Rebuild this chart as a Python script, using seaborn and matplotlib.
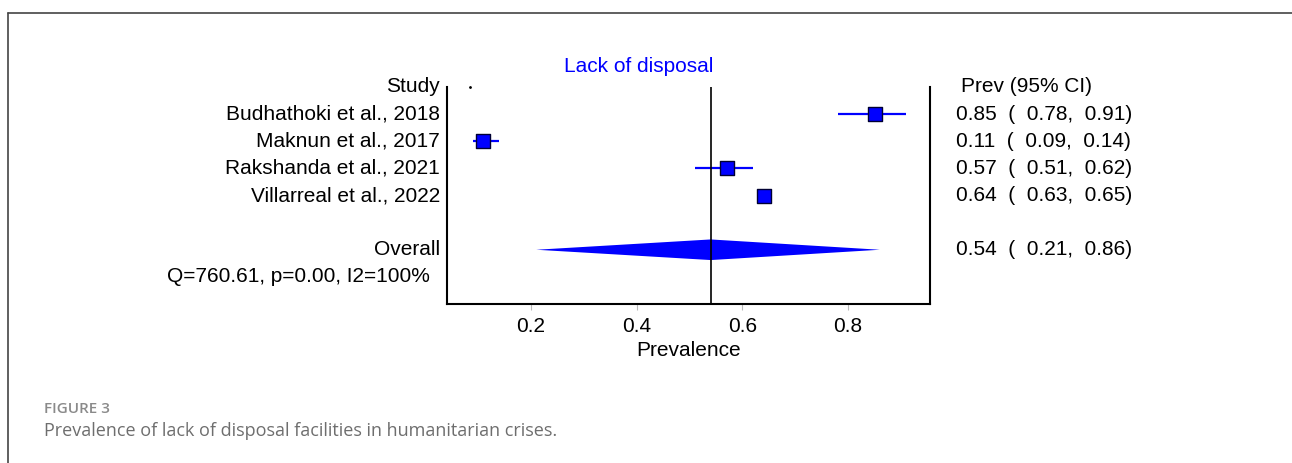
import pandas as pd
import matplotlib.pyplot as plt
import matplotlib.transforms as mtrans
from matplotlib.lines import Line2D
import seaborn as sns

# data
studies = ['Budhathoki et al., 2018', 'Maknun et al., 2017',
           'Rakshanda et al., 2021', 'Villarreal et al., 2022']
prev = [0.85, 0.11, 0.57, 0.64]
ci_low = [0.78, 0.09, 0.51, 0.63]
ci_high = [0.91, 0.14, 0.62, 0.65]
overall = [0.54, 0.21, 0.86]   # estimate, low, high
het_text = 'Q=760.61, p=0.00, I2=100%'
xticks = [0.2, 0.4, 0.6, 0.8]

df = pd.DataFrame({'study': studies, 'prev': prev, 'lo': ci_low, 'hi': ci_high})
df['row'] = range(1, len(df) + 1)
overall_row = len(df) + 2
het_row = overall_row + 1

W, H = 1292, 463
sns.set_theme(style="white")
plt.rcParams['font.family'] = ['Liberation Sans', 'DejaVu Sans']
plt.rcParams['text.color'] = 'black'
plt.rcParams['xtick.labelcolor'] = 'black'
plt.rcParams['axes.labelcolor'] = 'black'

fig = plt.figure(figsize=(W / 100, H / 100), dpi=100)
ax = fig.add_axes([447 / W, 1 - 304 / H, (930 - 447) / W, (304 - 87) / H])

blue = '#0000ff'

# confidence intervals + study squares
ax.hlines(df['row'], df['lo'], df['hi'], color=blue, lw=1.6, zorder=2)
sns.scatterplot(data=df, x='prev', y='row', marker='s', s=115, color=blue,
                edgecolor='#000033', linewidth=1.0, ax=ax, zorder=3, legend=False)

# pooled diamond
est, lo, hi = overall
ax.fill([lo, est, hi, est], [overall_row, overall_row - 0.38, overall_row, overall_row + 0.38],
        color=blue, lw=0, zorder=2)
ax.axvline(est, color='black', lw=1.2, zorder=4)

ax.plot([0.084], [0], marker='.', color='black', ms=2, clip_on=False)

ax.set_xlim(0.041, 0.955)
ax.set_ylim(8, 0)
ax.set_xticks(xticks)
ax.set_xticklabels([f'{t:.1f}' for t in xticks], fontsize=15)
ax.set_yticks([])
ax.tick_params(axis='x', bottom=True, length=4, width=0.8, color='#bbbbbb', pad=5)
ax.set_xlabel('Prevalence', fontsize=15, labelpad=4)
ax.set_ylabel('')
ax.spines['top'].set_visible(False)
for side in ['left', 'right', 'bottom']:
    ax.spines[side].set_color('black')
    ax.spines[side].set_linewidth(1.5)

# text columns left and right of the plot
tr = mtrans.blended_transform_factory(ax.transAxes, ax.transData)
lx = (440 - 447) / (930 - 447)
rx = (956 - 447) / (930 - 447)
ax.text(lx, 0, 'Study', ha='right', va='center', fontsize=15, transform=tr)
ax.text(rx + 0.01, 0, 'Prev (95% CI)', ha='left', va='center', fontsize=15, transform=tr)
for _, r in df.iterrows():
    ax.text(lx, r['row'], r['study'], ha='right', va='center', fontsize=15, transform=tr)
    ax.text(rx, r['row'], f"{r['prev']:.2f}  (  {r['lo']:.2f},  {r['hi']:.2f})",
            ha='left', va='center', fontsize=15, transform=tr)
ax.text(lx, overall_row, 'Overall', ha='right', va='center', fontsize=15, transform=tr)
ax.text(rx, overall_row, f'{est:.2f}  (  {lo:.2f},  {hi:.2f})',
        ha='left', va='center', fontsize=15, transform=tr)
ax.text(lx - 0.02, het_row, het_text, ha='right', va='center', fontsize=15, transform=tr)

fig.text(639 / W, 1 - 67 / H, 'Lack of disposal', color=blue, fontsize=15,
         ha='center', va='center')

# journal frame and caption
fig.add_artist(Line2D([8 / W, 1], [1 - 13 / H] * 2, color='#444444', lw=1.2))
fig.add_artist(Line2D([8 / W] * 2, [0, 1 - 13 / H], color='#444444', lw=1.2))
fig.text(44 / W, 1 - 409 / H, 'FIGURE 3', color='#8a8a8a', fontsize=11,
         fontweight='semibold', family=['Open Sans', 'DejaVu Sans'], va='center')
fig.text(44 / W, 1 - 431 / H, 'Prevalence of lack of disposal facilities in humanitarian crises.',
         color='#6e6e6e', fontsize=13, family=['Open Sans', 'DejaVu Sans'], va='center')

fig.savefig('out.png', dpi=100)
